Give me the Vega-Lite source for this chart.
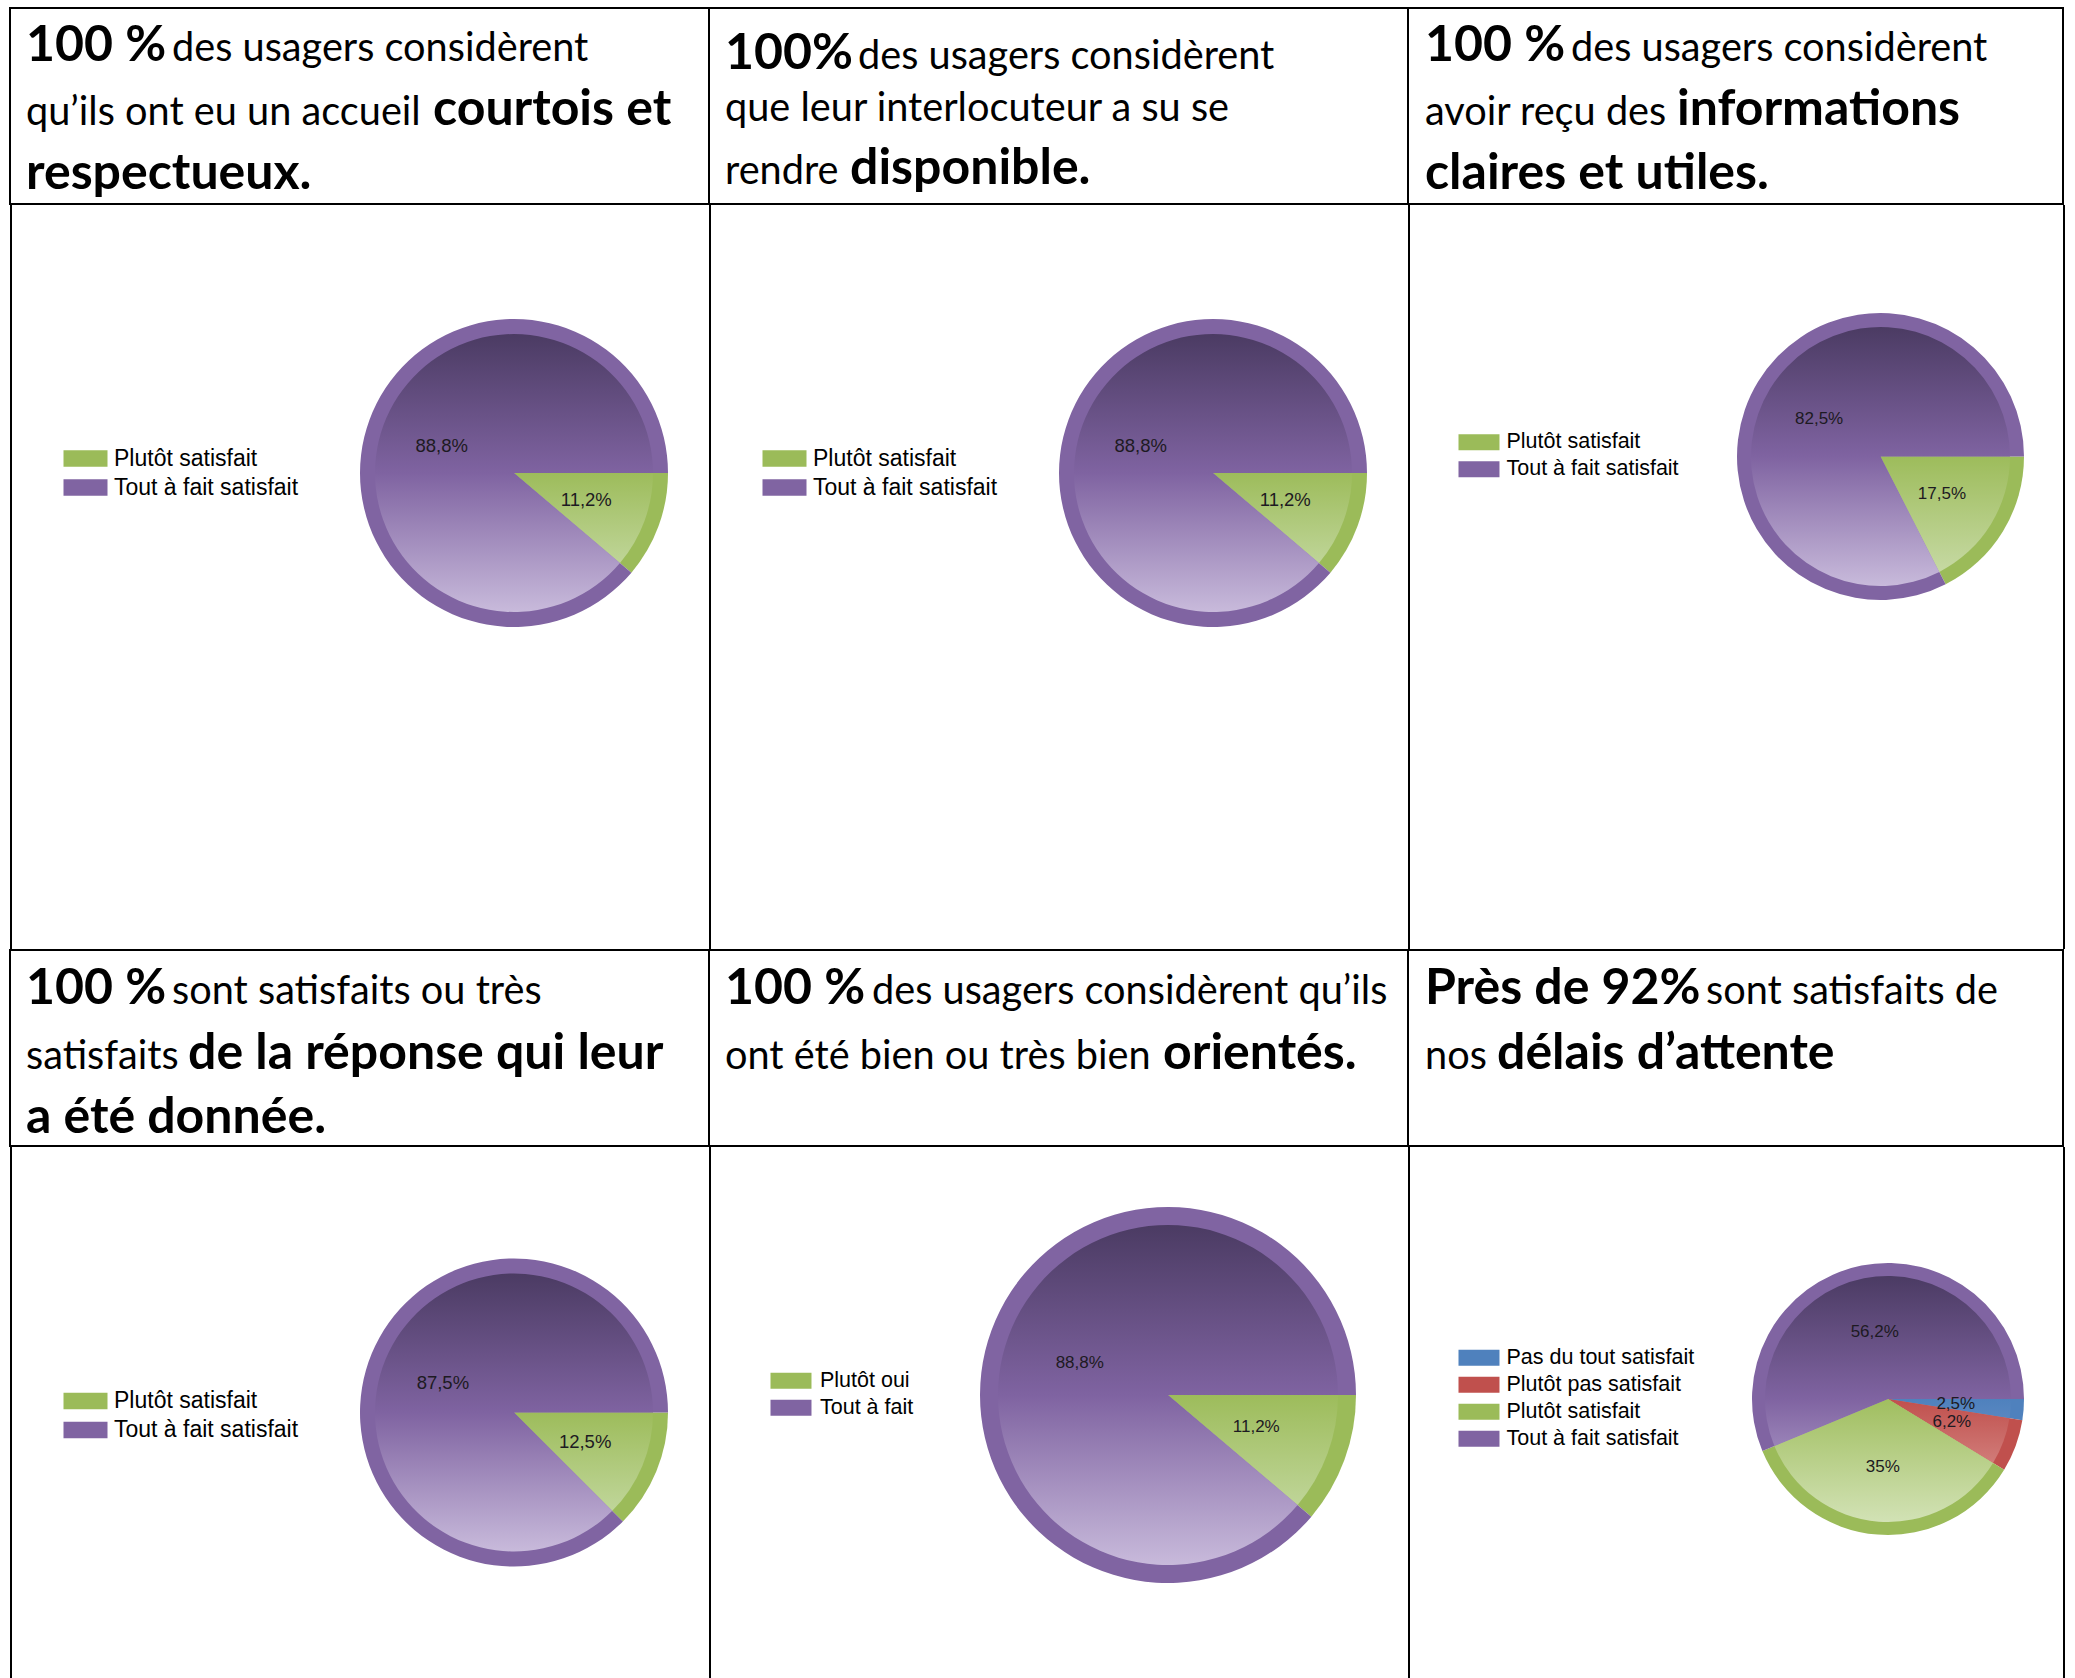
{
  "$schema": "https://vega.github.io/schema/vega-lite/v6.json",
  "background": "white",
  "padding": {"left": 9, "top": 7, "right": 11, "bottom": 0},
  "bounds": "full",
  "spacing": 0,
  "resolve": {"scale": {"color": "independent", "theta": "independent", "x": "independent", "y": "independent"}, "legend": {"color": "independent"}},
  "config": {
    "view": {"stroke": null},
    "concat": {"spacing": 0},
    "locale": {"number": {"decimal": ",", "thousands": " ", "grouping": [3], "currency": ["", "%"]}}
  },
  "vconcat": [
    {
      "bounds": "flush", "spacing": 0,
      "resolve": {"scale": {"x": "independent", "y": "independent"}},
      "hconcat": [
        {
          "width": 699, "height": 196,
          "view": {"stroke": "#000000", "strokeWidth": 2},
          "data": {"values": [
            {"seg": 1, "line": 1, "phrase": "100 %"},
            {"seg": 2, "line": 1, "phrase": "des usagers considèrent"},
            {"seg": 3, "line": 2, "phrase": "qu’ils ont eu un accueil"},
            {"seg": 4, "line": 2, "phrase": "courtois et"},
            {"seg": 5, "line": 3, "phrase": "respectueux."}
          ]},
          "encoding": {
            "x": {"field": "seg", "type": "quantitative", "scale": {"domain": [1, 2, 3, 4, 5], "range": [16, 162, 16, 423, 16], "zero": false, "nice": false}, "axis": null},
            "y": {"field": "line", "type": "quantitative", "scale": {"domain": [1, 3], "range": [53, 181], "zero": false, "nice": false}, "axis": null},
            "text": {"field": "phrase", "type": "nominal"}
          },
          "layer": [
            {"transform": [{"filter": {"field": "phrase", "oneOf": ["100 %", "courtois et", "respectueux."]}}],
             "mark": {"type": "text", "align": "left", "baseline": "alphabetic", "font": "Lato", "fontWeight": "bold", "fontSize": 50, "fill": "#000000"}},
            {"transform": [{"filter": {"not": {"field": "phrase", "oneOf": ["100 %", "courtois et", "respectueux."]}}}],
             "mark": {"type": "text", "align": "left", "baseline": "alphabetic", "font": "Lato", "fontWeight": "normal", "fontSize": 39.7, "fill": "#000000"}}
          ]
        },
        {
          "width": 699, "height": 196,
          "view": {"stroke": "#000000", "strokeWidth": 2},
          "data": {"values": [
            {"seg": 1, "line": 1, "phrase": "100%"},
            {"seg": 2, "line": 1, "phrase": "des usagers considèrent"},
            {"seg": 3, "line": 2, "phrase": "que leur interlocuteur a su se"},
            {"seg": 4, "line": 3, "phrase": "rendre"},
            {"seg": 5, "line": 3, "phrase": "disponible."}
          ]},
          "encoding": {
            "x": {"field": "seg", "type": "quantitative", "scale": {"domain": [1, 2, 3, 4, 5], "range": [16, 149, 16, 16, 141], "zero": false, "nice": false}, "axis": null},
            "y": {"field": "line", "type": "quantitative", "scale": {"domain": [1, 2, 3], "range": [61, 113, 176], "zero": false, "nice": false}, "axis": null},
            "text": {"field": "phrase", "type": "nominal"}
          },
          "layer": [
            {"transform": [{"filter": {"field": "phrase", "oneOf": ["100%", "disponible."]}}],
             "mark": {"type": "text", "align": "left", "baseline": "alphabetic", "font": "Lato", "fontWeight": "bold", "fontSize": 50, "fill": "#000000"}},
            {"transform": [{"filter": {"not": {"field": "phrase", "oneOf": ["100%", "disponible."]}}}],
             "mark": {"type": "text", "align": "left", "baseline": "alphabetic", "font": "Lato", "fontWeight": "normal", "fontSize": 39.7, "fill": "#000000"}}
          ]
        },
        {
          "width": 655, "height": 196,
          "view": {"stroke": "#000000", "strokeWidth": 2},
          "data": {"values": [
            {"seg": 1, "line": 1, "phrase": "100 %"},
            {"seg": 2, "line": 1, "phrase": "des usagers considèrent"},
            {"seg": 3, "line": 2, "phrase": "avoir reçu des"},
            {"seg": 4, "line": 2, "phrase": "informations"},
            {"seg": 5, "line": 3, "phrase": "claires et utiles."}
          ]},
          "encoding": {
            "x": {"field": "seg", "type": "quantitative", "scale": {"domain": [1, 2, 3, 4, 5], "range": [17, 163, 17, 269, 17], "zero": false, "nice": false}, "axis": null},
            "y": {"field": "line", "type": "quantitative", "scale": {"domain": [1, 3], "range": [53, 181], "zero": false, "nice": false}, "axis": null},
            "text": {"field": "phrase", "type": "nominal"}
          },
          "layer": [
            {"transform": [{"filter": {"field": "phrase", "oneOf": ["100 %", "informations", "claires et utiles."]}}],
             "mark": {"type": "text", "align": "left", "baseline": "alphabetic", "font": "Lato", "fontWeight": "bold", "fontSize": 50, "fill": "#000000"}},
            {"transform": [{"filter": {"not": {"field": "phrase", "oneOf": ["100 %", "informations", "claires et utiles."]}}}],
             "mark": {"type": "text", "align": "left", "baseline": "alphabetic", "font": "Lato", "fontWeight": "normal", "fontSize": 39.7, "fill": "#000000"}}
          ]
        }
      ]
    },
    {
      "bounds": "flush", "spacing": 0,
      "resolve": {"scale": {"color": "independent", "theta": "independent"}, "legend": {"color": "independent"}},
      "hconcat": [
        {"width": 2, "height": 744, "data": {"values": []}, "mark": "point", "view": {"fill": "#000000", "stroke": null}},
        {"width": 307, "height": 1, "data": {"values": []}, "mark": "point"},
        {
          "width": 390, "height": 536,
          "data": {"values": [{"cat": "Plutôt satisfait", "pct": 11.2}, {"cat": "Tout à fait satisfait", "pct": 88.8}]},
          "encoding": {
            "theta": {"field": "pct", "type": "quantitative", "stack": true, "scale": {"range": [1.5707963, 7.8539816]}},
            "order": {"field": "pct", "type": "quantitative", "sort": "ascending"},
            "detail": {"field": "cat", "type": "nominal"}
          },
          "layer": [
            {"mark": {"type": "arc", "outerRadius": 154},
             "encoding": {"color": {"field": "cat", "type": "nominal",
               "scale": {"domain": ["Plutôt satisfait", "Tout à fait satisfait"], "range": ["#9BBB59", "#8064A2"]},
               "legend": {"orient": "none", "legendX": -256, "legendY": 242, "title": null, "symbolType": "M-1,-0.75H3V0.75H-1Z", "symbolSize": 484, "symbolStrokeWidth": 0, "symbolOpacity": 1, "labelFont": "Liberation Sans", "labelFontSize": 23, "labelColor": "#000000", "labelOffset": 28, "labelLimit": 0, "rowPadding": 5, "padding": 0}}}},
            {"mark": {"type": "arc", "outerRadius": 139},
             "encoding": {"fill": {"condition": {"test": "datum.cat === 'Tout à fait satisfait'", "value": {"gradient": "linear", "x1": 0, "y1": 0, "x2": 0, "y2": 1, "stops": [{"offset": 0, "color": "#4b3b63"}, {"offset": 0.5, "color": "#7f63a1"}, {"offset": 1, "color": "#c8badb"}]}},
               "value": {"gradient": "linear", "x1": 0, "y1": 0, "x2": 0, "y2": 1, "stops": [{"offset": 0, "color": "#9dbc5b"}, {"offset": 1, "color": "#bfd598"}]}}}},
            {"mark": {"type": "text", "radius": 77, "font": "Liberation Sans", "fontSize": 18.5, "fill": "#1d1a22"},
             "encoding": {"text": {"field": "pct", "type": "quantitative", "format": "$.1~f"}}}
          ]
        },
        {"width": 2, "height": 744, "data": {"values": []}, "mark": "point", "view": {"fill": "#000000", "stroke": null}},
        {"width": 307, "height": 1, "data": {"values": []}, "mark": "point"},
        {
          "width": 390, "height": 536,
          "data": {"values": [{"cat": "Plutôt satisfait", "pct": 11.2}, {"cat": "Tout à fait satisfait", "pct": 88.8}]},
          "encoding": {
            "theta": {"field": "pct", "type": "quantitative", "stack": true, "scale": {"range": [1.5707963, 7.8539816]}},
            "order": {"field": "pct", "type": "quantitative", "sort": "ascending"},
            "detail": {"field": "cat", "type": "nominal"}
          },
          "layer": [
            {"mark": {"type": "arc", "outerRadius": 154},
             "encoding": {"color": {"field": "cat", "type": "nominal",
               "scale": {"domain": ["Plutôt satisfait", "Tout à fait satisfait"], "range": ["#9BBB59", "#8064A2"]},
               "legend": {"orient": "none", "legendX": -256, "legendY": 242, "title": null, "symbolType": "M-1,-0.75H3V0.75H-1Z", "symbolSize": 484, "symbolStrokeWidth": 0, "symbolOpacity": 1, "labelFont": "Liberation Sans", "labelFontSize": 23, "labelColor": "#000000", "labelOffset": 28, "labelLimit": 0, "rowPadding": 5, "padding": 0}}}},
            {"mark": {"type": "arc", "outerRadius": 139},
             "encoding": {"fill": {"condition": {"test": "datum.cat === 'Tout à fait satisfait'", "value": {"gradient": "linear", "x1": 0, "y1": 0, "x2": 0, "y2": 1, "stops": [{"offset": 0, "color": "#4b3b63"}, {"offset": 0.5, "color": "#7f63a1"}, {"offset": 1, "color": "#c8badb"}]}},
               "value": {"gradient": "linear", "x1": 0, "y1": 0, "x2": 0, "y2": 1, "stops": [{"offset": 0, "color": "#9dbc5b"}, {"offset": 1, "color": "#bfd598"}]}}}},
            {"mark": {"type": "text", "radius": 77, "font": "Liberation Sans", "fontSize": 18.5, "fill": "#1d1a22"},
             "encoding": {"text": {"field": "pct", "type": "quantitative", "format": "$.1~f"}}}
          ]
        },
        {"width": 2, "height": 744, "data": {"values": []}, "mark": "point", "view": {"fill": "#000000", "stroke": null}},
        {"width": 288, "height": 1, "data": {"values": []}, "mark": "point"},
        {
          "width": 365, "height": 503,
          "data": {"values": [{"cat": "Plutôt satisfait", "pct": 17.5}, {"cat": "Tout à fait satisfait", "pct": 82.5}]},
          "encoding": {
            "theta": {"field": "pct", "type": "quantitative", "stack": true, "scale": {"range": [1.5707963, 7.8539816]}},
            "order": {"field": "pct", "type": "quantitative", "sort": "ascending"},
            "detail": {"field": "cat", "type": "nominal"}
          },
          "layer": [
            {"mark": {"type": "arc", "outerRadius": 143.5},
             "encoding": {"color": {"field": "cat", "type": "nominal",
               "scale": {"domain": ["Plutôt satisfait", "Tout à fait satisfait"], "range": ["#9BBB59", "#8064A2"]},
               "legend": {"orient": "none", "legendX": -240, "legendY": 226.5, "title": null, "symbolType": "M-1,-0.78H3V0.78H-1Z", "symbolSize": 420, "symbolStrokeWidth": 0, "symbolOpacity": 1, "labelFont": "Liberation Sans", "labelFontSize": 21.5, "labelColor": "#000000", "labelOffset": 27, "labelLimit": 0, "rowPadding": 4, "padding": 0}}}},
            {"mark": {"type": "arc", "outerRadius": 129.5},
             "encoding": {"fill": {"condition": {"test": "datum.cat === 'Tout à fait satisfait'", "value": {"gradient": "linear", "x1": 0, "y1": 0, "x2": 0, "y2": 1, "stops": [{"offset": 0, "color": "#4b3b63"}, {"offset": 0.5, "color": "#7f63a1"}, {"offset": 1, "color": "#c8badb"}]}},
               "value": {"gradient": "linear", "x1": 0, "y1": 0, "x2": 0, "y2": 1, "stops": [{"offset": 0, "color": "#9dbc5b"}, {"offset": 1, "color": "#c6d9a3"}]}}}},
            {"mark": {"type": "text", "radius": 72, "font": "Liberation Sans", "fontSize": 17, "fill": "#1d1a22"},
             "encoding": {"text": {"field": "pct", "type": "quantitative", "format": "$.1~f"}}}
          ]
        },
        {"width": 2, "height": 744, "data": {"values": []}, "mark": "point", "view": {"fill": "#000000", "stroke": null}}
      ]
    },
    {
      "bounds": "flush", "spacing": 0,
      "resolve": {"scale": {"x": "independent", "y": "independent"}},
      "hconcat": [
        {
          "width": 699, "height": 196,
          "view": {"stroke": "#000000", "strokeWidth": 2},
          "data": {"values": [
            {"seg": 1, "line": 1, "phrase": "100 %"},
            {"seg": 2, "line": 1, "phrase": "sont satisfaits ou très"},
            {"seg": 3, "line": 2, "phrase": "satisfaits"},
            {"seg": 4, "line": 2, "phrase": "de la réponse qui leur"},
            {"seg": 5, "line": 3, "phrase": "a été donnée."}
          ]},
          "encoding": {
            "x": {"field": "seg", "type": "quantitative", "scale": {"domain": [1, 2, 3, 4, 5], "range": [16, 162, 16, 178, 16], "zero": false, "nice": false}, "axis": null},
            "y": {"field": "line", "type": "quantitative", "scale": {"domain": [1, 3], "range": [54, 183], "zero": false, "nice": false}, "axis": null},
            "text": {"field": "phrase", "type": "nominal"}
          },
          "layer": [
            {"transform": [{"filter": {"field": "phrase", "oneOf": ["100 %", "de la réponse qui leur", "a été donnée."]}}],
             "mark": {"type": "text", "align": "left", "baseline": "alphabetic", "font": "Lato", "fontWeight": "bold", "fontSize": 50, "fill": "#000000"}},
            {"transform": [{"filter": {"not": {"field": "phrase", "oneOf": ["100 %", "de la réponse qui leur", "a été donnée."]}}}],
             "mark": {"type": "text", "align": "left", "baseline": "alphabetic", "font": "Lato", "fontWeight": "normal", "fontSize": 39.7, "fill": "#000000"}}
          ]
        },
        {
          "width": 699, "height": 196,
          "view": {"stroke": "#000000", "strokeWidth": 2},
          "data": {"values": [
            {"seg": 1, "line": 1, "phrase": "100 %"},
            {"seg": 2, "line": 1, "phrase": "des usagers considèrent qu’ils"},
            {"seg": 3, "line": 2, "phrase": "ont été bien ou très bien"},
            {"seg": 4, "line": 2, "phrase": "orientés."}
          ]},
          "encoding": {
            "x": {"field": "seg", "type": "quantitative", "scale": {"domain": [1, 2, 3, 4], "range": [16, 163, 16, 454], "zero": false, "nice": false}, "axis": null},
            "y": {"field": "line", "type": "quantitative", "scale": {"domain": [1, 2], "range": [54, 119], "zero": false, "nice": false}, "axis": null},
            "text": {"field": "phrase", "type": "nominal"}
          },
          "layer": [
            {"transform": [{"filter": {"field": "phrase", "oneOf": ["100 %", "orientés."]}}],
             "mark": {"type": "text", "align": "left", "baseline": "alphabetic", "font": "Lato", "fontWeight": "bold", "fontSize": 50, "fill": "#000000"}},
            {"transform": [{"filter": {"not": {"field": "phrase", "oneOf": ["100 %", "orientés."]}}}],
             "mark": {"type": "text", "align": "left", "baseline": "alphabetic", "font": "Lato", "fontWeight": "normal", "fontSize": 39.7, "fill": "#000000"}}
          ]
        },
        {
          "width": 655, "height": 196,
          "view": {"stroke": "#000000", "strokeWidth": 2},
          "data": {"values": [
            {"seg": 1, "line": 1, "phrase": "Près de 92%"},
            {"seg": 2, "line": 1, "phrase": "sont satisfaits de"},
            {"seg": 3, "line": 2, "phrase": "nos"},
            {"seg": 4, "line": 2, "phrase": "délais d’attente"}
          ]},
          "encoding": {
            "x": {"field": "seg", "type": "quantitative", "scale": {"domain": [1, 2, 3, 4], "range": [17, 298, 17, 89], "zero": false, "nice": false}, "axis": null},
            "y": {"field": "line", "type": "quantitative", "scale": {"domain": [1, 2], "range": [54, 119], "zero": false, "nice": false}, "axis": null},
            "text": {"field": "phrase", "type": "nominal"}
          },
          "layer": [
            {"transform": [{"filter": {"field": "phrase", "oneOf": ["Près de 92%", "délais d’attente"]}}],
             "mark": {"type": "text", "align": "left", "baseline": "alphabetic", "font": "Lato", "fontWeight": "bold", "fontSize": 50, "fill": "#000000"}},
            {"transform": [{"filter": {"not": {"field": "phrase", "oneOf": ["Près de 92%", "délais d’attente"]}}}],
             "mark": {"type": "text", "align": "left", "baseline": "alphabetic", "font": "Lato", "fontWeight": "normal", "fontSize": 39.7, "fill": "#000000"}}
          ]
        }
      ]
    },
    {
      "bounds": "flush", "spacing": 0,
      "resolve": {"scale": {"color": "independent", "theta": "independent"}, "legend": {"color": "independent"}},
      "hconcat": [
        {"width": 2, "height": 531, "data": {"values": []}, "mark": "point", "view": {"fill": "#000000", "stroke": null}},
        {"width": 307, "height": 1, "data": {"values": []}, "mark": "point"},
        {
          "width": 390, "height": 531,
          "data": {"values": [{"cat": "Plutôt satisfait", "pct": 12.5}, {"cat": "Tout à fait satisfait", "pct": 87.5}]},
          "encoding": {
            "theta": {"field": "pct", "type": "quantitative", "stack": true, "scale": {"range": [1.5707963, 7.8539816]}},
            "order": {"field": "pct", "type": "quantitative", "sort": "ascending"},
            "detail": {"field": "cat", "type": "nominal"}
          },
          "layer": [
            {"mark": {"type": "arc", "outerRadius": 154},
             "encoding": {"color": {"field": "cat", "type": "nominal",
               "scale": {"domain": ["Plutôt satisfait", "Tout à fait satisfait"], "range": ["#9BBB59", "#8064A2"]},
               "legend": {"orient": "none", "legendX": -256, "legendY": 242.5, "title": null, "symbolType": "M-1,-0.75H3V0.75H-1Z", "symbolSize": 484, "symbolStrokeWidth": 0, "symbolOpacity": 1, "labelFont": "Liberation Sans", "labelFontSize": 23, "labelColor": "#000000", "labelOffset": 28, "labelLimit": 0, "rowPadding": 5, "padding": 0}}}},
            {"mark": {"type": "arc", "outerRadius": 139},
             "encoding": {"fill": {"condition": {"test": "datum.cat === 'Tout à fait satisfait'", "value": {"gradient": "linear", "x1": 0, "y1": 0, "x2": 0, "y2": 1, "stops": [{"offset": 0, "color": "#4b3b63"}, {"offset": 0.5, "color": "#7f63a1"}, {"offset": 1, "color": "#c8badb"}]}},
               "value": {"gradient": "linear", "x1": 0, "y1": 0, "x2": 0, "y2": 1, "stops": [{"offset": 0, "color": "#9dbc5b"}, {"offset": 1, "color": "#c0d69a"}]}}}},
            {"mark": {"type": "text", "radius": 77, "font": "Liberation Sans", "fontSize": 18.5, "fill": "#1d1a22"},
             "encoding": {"text": {"field": "pct", "type": "quantitative", "format": "$.1~f"}}}
          ]
        },
        {"width": 2, "height": 531, "data": {"values": []}, "mark": "point", "view": {"fill": "#000000", "stroke": null}},
        {"width": 217, "height": 1, "data": {"values": []}, "mark": "point"},
        {
          "width": 480, "height": 496,
          "data": {"values": [{"cat": "Plutôt oui", "pct": 11.2}, {"cat": "Tout à fait", "pct": 88.8}]},
          "encoding": {
            "theta": {"field": "pct", "type": "quantitative", "stack": true, "scale": {"range": [1.5707963, 7.8539816]}},
            "order": {"field": "pct", "type": "quantitative", "sort": "ascending"},
            "detail": {"field": "cat", "type": "nominal"}
          },
          "layer": [
            {"mark": {"type": "arc", "outerRadius": 188},
             "encoding": {"color": {"field": "cat", "type": "nominal",
               "scale": {"domain": ["Plutôt oui", "Tout à fait"], "range": ["#9BBB59", "#8064A2"]},
               "legend": {"orient": "none", "legendX": -158, "legendY": 223, "title": null, "symbolType": "M-1,-0.78H3V0.78H-1Z", "symbolSize": 420, "symbolStrokeWidth": 0, "symbolOpacity": 1, "labelFont": "Liberation Sans", "labelFontSize": 21.5, "labelColor": "#000000", "labelOffset": 28.5, "labelLimit": 0, "rowPadding": 4, "padding": 0}}}},
            {"mark": {"type": "arc", "outerRadius": 170},
             "encoding": {"fill": {"condition": {"test": "datum.cat === 'Tout à fait'", "value": {"gradient": "linear", "x1": 0, "y1": 0, "x2": 0, "y2": 1, "stops": [{"offset": 0, "color": "#4b3b63"}, {"offset": 0.5, "color": "#7f63a1"}, {"offset": 1, "color": "#c8badb"}]}},
               "value": {"gradient": "linear", "x1": 0, "y1": 0, "x2": 0, "y2": 1, "stops": [{"offset": 0, "color": "#9dbc5b"}, {"offset": 1, "color": "#bfd598"}]}}}},
            {"mark": {"type": "text", "radius": 94, "font": "Liberation Sans", "fontSize": 17, "fill": "#1d1a22"},
             "encoding": {"text": {"field": "pct", "type": "quantitative", "format": "$.1~f"}}}
          ]
        },
        {"width": 2, "height": 531, "data": {"values": []}, "mark": "point", "view": {"fill": "#000000", "stroke": null}},
        {"width": 303, "height": 1, "data": {"values": []}, "mark": "point"},
        {
          "width": 350, "height": 504,
          "data": {"values": [
            {"cat": "Pas du tout satisfait", "pct": 2.5},
            {"cat": "Plutôt pas satisfait", "pct": 6.2},
            {"cat": "Plutôt satisfait", "pct": 35},
            {"cat": "Tout à fait satisfait", "pct": 56.2}
          ]},
          "encoding": {
            "theta": {"field": "pct", "type": "quantitative", "stack": true, "scale": {"range": [1.5707963, 7.8539816]}},
            "order": {"field": "pct", "type": "quantitative", "sort": "ascending"},
            "detail": {"field": "cat", "type": "nominal"}
          },
          "layer": [
            {"mark": {"type": "arc", "outerRadius": 136},
             "encoding": {"color": {"field": "cat", "type": "nominal",
               "scale": {"domain": ["Pas du tout satisfait", "Plutôt pas satisfait", "Plutôt satisfait", "Tout à fait satisfait"], "range": ["#4F81BD", "#C0504D", "#9BBB59", "#8064A2"]},
               "legend": {"orient": "none", "legendX": -255, "legendY": 200, "title": null, "symbolType": "M-1,-0.78H3V0.78H-1Z", "symbolSize": 420, "symbolStrokeWidth": 0, "symbolOpacity": 1, "labelFont": "Liberation Sans", "labelFontSize": 21.5, "labelColor": "#000000", "labelOffset": 27, "labelLimit": 0, "rowPadding": 4, "padding": 0}}}},
            {"mark": {"type": "arc", "outerRadius": 123},
             "encoding": {"fill": {"condition": [
                 {"test": "datum.cat === 'Tout à fait satisfait'", "value": {"gradient": "linear", "x1": 0, "y1": 0, "x2": 0, "y2": 1, "stops": [{"offset": 0, "color": "#4b3b63"}, {"offset": 0.72, "color": "#7f63a1"}, {"offset": 1, "color": "#9a83b8"}]}},
                 {"test": "datum.cat === 'Plutôt pas satisfait'", "value": {"gradient": "linear", "x1": 0, "y1": 0, "x2": 0, "y2": 1, "stops": [{"offset": 0, "color": "#c0504d"}, {"offset": 1, "color": "#d17c79"}]}},
                 {"test": "datum.cat === 'Pas du tout satisfait'", "value": {"gradient": "linear", "x1": 0, "y1": 0, "x2": 0, "y2": 1, "stops": [{"offset": 0, "color": "#4f81bd"}, {"offset": 1, "color": "#5887c1"}]}}
               ],
               "value": {"gradient": "linear", "x1": 0, "y1": 0, "x2": 0, "y2": 1, "stops": [{"offset": 0, "color": "#a0be5f"}, {"offset": 1, "color": "#d2e2b5"}]}}}},
            {"mark": {"type": "text", "radius": 68, "font": "Liberation Sans", "fontSize": 17, "fill": "#1d1a22"},
             "encoding": {"text": {"field": "pct", "type": "quantitative", "format": "$.1~f"}}}
          ]
        },
        {"width": 2, "height": 531, "data": {"values": []}, "mark": "point", "view": {"fill": "#000000", "stroke": null}}
      ]
    }
  ]
}
